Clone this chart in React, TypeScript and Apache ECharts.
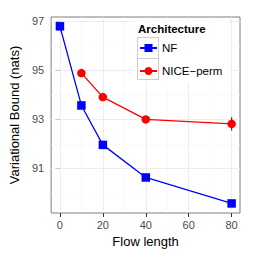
import React, { useEffect, useRef } from "react";
import * as echarts from "echarts";

const nfX = [0, 10, 20, 40, 80];
const nfY = [96.8, 93.57, 91.96, 90.63, 89.57];
const niceX = [10, 20, 40, 80];
const niceY = [94.89, 93.91, 93.0, 92.82];
const errX = 80;
const errLow = 92.55;
const errHigh = 93.09;
const xTicks = [0, 20, 40, 60, 80];
const xMinor = [10, 30, 50, 70];
const yTicks = [91, 93, 95, 97];
const yMinor = [90, 92, 94, 96];

const FONT = "Liberation Sans";

export default function App() {
  const ref = useRef<HTMLDivElement>(null);
  useEffect(() => {
    if (!ref.current) return;
    const chart = echarts.init(ref.current, null, { renderer: "svg" });
    const gridLines = [
      ...xMinor.map((v) => ({ xAxis: v, lineStyle: { color: "#f7f7f7", width: 0.6, type: "solid" } })),
      ...yMinor.map((v) => ({ yAxis: v, lineStyle: { color: "#f7f7f7", width: 0.6, type: "solid" } })),
      ...xTicks.map((v) => ({ xAxis: v, lineStyle: { color: "#e8e8e8", width: 0.8, type: "solid" } })),
      ...yTicks.map((v) => ({ yAxis: v, lineStyle: { color: "#e8e8e8", width: 0.8, type: "solid" } })),
    ];
    chart.setOption({
      animation: false,
      backgroundColor: "#ffffff",
      textStyle: { fontFamily: FONT },
      grid: { left: 49, right: 18, top: 17, bottom: 45, show: true, borderColor: "#7f7f7f", borderWidth: 1, backgroundColor: "#fff" },
      xAxis: {
        type: "value",
        min: -4.1,
        max: 83.9,
        name: "Flow length",
        nameLocation: "middle",
        nameGap: 22,
        nameTextStyle: { fontSize: 13, color: "#000", fontFamily: FONT },
        axisLine: { show: false },
        axisTick: { show: true, length: 4, customValues: xTicks, lineStyle: { color: "#333" } },
        axisLabel: { customValues: xTicks, fontSize: 11, color: "#4d4d4d", margin: 6, fontFamily: FONT },
        splitLine: { show: false },
      },
      yAxis: {
        type: "value",
        min: 89.18,
        max: 97.18,
        name: "Variational Bound (nats)",
        nameLocation: "middle",
        nameGap: 28,
        nameTextStyle: { fontSize: 13, color: "#000", fontFamily: FONT },
        axisLine: { show: false },
        axisTick: { show: true, length: 4, customValues: yTicks, lineStyle: { color: "#333" } },
        axisLabel: { customValues: yTicks, fontSize: 11, color: "#4d4d4d", margin: 7, fontFamily: FONT },
        splitLine: { show: false },
      },
      legend: {
        data: ["NF", "NICE−perm"],
        orient: "vertical",
        left: 139,
        top: 42,
        padding: 0,
        itemWidth: 17,
        itemHeight: 10,
        itemGap: 11,
        z: 20,
        textStyle: { fontSize: 11.5, color: "#000", fontFamily: FONT },
      },
      graphic: [
        { type: "rect", left: 134, top: 20, shape: { width: 95, height: 62 }, style: { fill: "#fff" }, z: 11 },
        { type: "rect", left: 137, top: 37, shape: { width: 21, height: 21 }, style: { fill: "#fff", stroke: "#cccccc", lineWidth: 1 }, z: 12 },
        { type: "rect", left: 137, top: 58, shape: { width: 21, height: 21 }, style: { fill: "#fff", stroke: "#cccccc", lineWidth: 1 }, z: 12 },
        { type: "text", left: 138, top: 23, style: { text: "Architecture", fontSize: 11.5, fontWeight: "bold", fill: "#000", fontFamily: FONT }, z: 12 },
      ],
      series: [
        {
          name: "grid",
          type: "line",
          data: [],
          silent: true,
          z: 0,
          markLine: { silent: true, symbol: "none", label: { show: false }, data: gridLines, animation: false },
        },
        {
          name: "err",
          type: "line",
          data: [[errX, errLow], [errX, errHigh]],
          symbol: "none",
          lineStyle: { color: "#333", width: 1.2 },
          z: 8,
        },
        {
          name: "NF",
          type: "line",
          data: nfX.map((x, i) => [x, nfY[i]]),
          symbol: "rect",
          symbolSize: 8.5,
          color: "#0000ff",
          lineStyle: { color: "#0000ff", width: 1.3 },
          itemStyle: { color: "#0000ff" },
          z: 9,
        },
        {
          name: "NICE−perm",
          type: "line",
          data: niceX.map((x, i) => [x, niceY[i]]),
          symbol: "circle",
          symbolSize: 8.5,
          color: "#ff0000",
          lineStyle: { color: "#ff0000", width: 1.3 },
          itemStyle: { color: "#ff0000" },
          z: 9,
        },
      ],
    });
    return () => chart.dispose();
  }, []);
  return <div ref={ref} style={{ width: 258, height: 258, position: "absolute", left: 0, top: 0 }} />;
}
